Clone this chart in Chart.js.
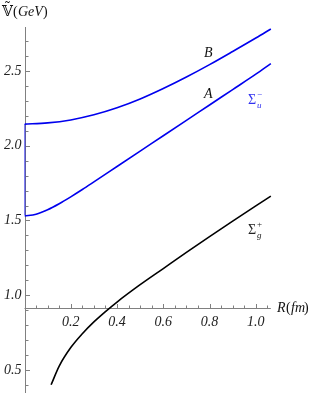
<!DOCTYPE html>
<html>
<head>
<meta charset="utf-8">
<script src="https://cdn.jsdelivr.net/npm/chart.js@4.4.1/dist/chart.umd.min.js"></script>
<style>
  html, body { margin: 0; padding: 0; background: #fff; }
  canvas { display: block; }
</style>
</head>
<body>
<canvas id="myChart" width="313" height="393"></canvas>
<script>
// valores
const r_sigma_g = [0.115, 0.15, 0.2, 0.25, 0.3, 0.35, 0.4, 0.5, 0.6, 0.7, 0.8, 0.9, 1.0, 1.065];
const v_sigma_g = [0.40, 0.525, 0.649, 0.742, 0.821, 0.89, 0.954, 1.07, 1.178, 1.286, 1.392, 1.496, 1.598, 1.663];

const r_A = [0, 0.05, 0.1, 0.15, 0.2, 0.25, 0.3, 0.4, 0.5, 0.6, 0.7, 0.8, 0.9, 1.0, 1.065];
const v_A = [1.53, 1.542, 1.572, 1.612, 1.658, 1.707, 1.758, 1.861, 1.964, 2.067, 2.17, 2.273, 2.376, 2.479, 2.55];

const r_B = [0, 0.1, 0.2, 0.3, 0.4, 0.5, 0.6, 0.7, 0.8, 0.9, 1.0, 1.065];
const v_B = [2.145, 2.153, 2.173, 2.207, 2.254, 2.313, 2.383, 2.46, 2.543, 2.631, 2.721, 2.782];

// tramo vertical en R = 0
const r_salto = [0, 0];
const v_salto = [1.535, 2.145];

const x_ticks = [0.2, 0.4, 0.6, 0.8, 1.0];
const y_ticks = [0.5, 1.0, 1.5, 2.0, 2.5];
const eje_x_en = 0.913;

const grafica = document.getElementById('myChart').getContext('2d');

function puntos(xs, ys) {
    return xs.map((x, i) => ({ x: x, y: ys[i] }));
}

const ejes = {
    id: 'ejes',
    beforeDatasetsDraw(chart) {
        const ctx = chart.ctx;
        const sx = chart.scales.x;
        const sy = chart.scales.y;
        const x0 = sx.getPixelForValue(0);
        const yAxis = sy.getPixelForValue(eje_x_en);
        ctx.save();
        ctx.strokeStyle = '#808080';
        ctx.lineWidth = 1;
        ctx.beginPath();
        // eje y
        ctx.moveTo(Math.round(x0) + 0.5, sy.top);
        ctx.lineTo(Math.round(x0) + 0.5, sy.bottom);
        // eje x
        ctx.moveTo(x0, Math.round(yAxis) + 0.5);
        ctx.lineTo(sx.getPixelForValue(1.065), Math.round(yAxis) + 0.5);
        // marcas x
        for (let k = 1; k <= 21; k++) {
            const v = k * 0.05;
            const px = Math.round(sx.getPixelForValue(v)) + 0.5;
            const major = k % 4 === 0;
            ctx.moveTo(px, Math.round(yAxis));
            ctx.lineTo(px, Math.round(yAxis) - (major ? 4 : 2.5));
        }
        // marcas y
        for (let k = 4; k <= 27; k++) {
            const v = k * 0.1;
            const py = Math.round(sy.getPixelForValue(v)) + 0.5;
            const major = k % 5 === 0;
            ctx.moveTo(Math.round(x0) + 1, py);
            ctx.lineTo(Math.round(x0) + 1 + (major ? 4 : 2.5), py);
        }
        ctx.stroke();

        ctx.fillStyle = '#222';
        ctx.font = 'italic 14px "Liberation Serif"';
        ctx.textAlign = 'center';
        ctx.textBaseline = 'top';
        for (const v of x_ticks) {
            ctx.fillText(v.toFixed(1), sx.getPixelForValue(v), yAxis + 7);
        }
        ctx.textAlign = 'right';
        ctx.textBaseline = 'middle';
        for (const v of y_ticks) {
            ctx.fillText(v.toFixed(1), x0 - 3, sy.getPixelForValue(v));
        }
        ctx.restore();
    },
    afterDraw(chart) {
        const ctx = chart.ctx;
        const sy = chart.scales.y;
        const yAxis = sy.getPixelForValue(eje_x_en);
        ctx.save();
        ctx.fillStyle = '#111';
        ctx.textBaseline = 'alphabetic';
        ctx.textAlign = 'left';
        // titulo eje y
        ctx.font = '14px "DejaVu Serif"';
        ctx.fillText('\u{1D54D}\u0303', 2, 16);
        ctx.font = '14px "Liberation Serif"';
        ctx.fillText('(', 13, 16);
        ctx.font = 'italic 14px "Liberation Serif"';
        ctx.fillText('GeV', 18, 16);
        ctx.font = '14px "Liberation Serif"';
        ctx.fillText(')', 43, 16);
        // titulo eje x
        ctx.font = 'italic 14px "Liberation Serif"';
        ctx.fillText('R', 277, yAxis + 4);
        ctx.font = '14px "Liberation Serif"';
        ctx.fillText('(', 286, yAxis + 4);
        ctx.font = 'italic 14px "Liberation Serif"';
        ctx.fillText('fm', 291, yAxis + 4);
        ctx.font = '14px "Liberation Serif"';
        ctx.fillText(')', 304, yAxis + 4);
        // etiquetas
        ctx.font = 'italic 14px "Liberation Serif"';
        ctx.fillText('B', 204, 57);
        ctx.fillText('A', 204, 98);
        ctx.fillStyle = '#3030f0';
        ctx.font = '14px "Liberation Serif"';
        ctx.fillText('\u03A3', 248, 104);
        ctx.font = 'italic 9px "Liberation Serif"';
        ctx.fillText('u', 257, 108);
        ctx.font = '9px "Liberation Serif"';
        ctx.fillText('\u2212', 257, 97);
        ctx.fillStyle = '#222';
        ctx.font = '14px "Liberation Serif"';
        ctx.fillText('\u03A3', 248, 234);
        ctx.font = 'italic 9px "Liberation Serif"';
        ctx.fillText('g', 257, 238);
        ctx.font = '9px "Liberation Serif"';
        ctx.fillText('+', 257, 227);
        ctx.restore();
    }
};

const myChart = new Chart(grafica, {
    type: 'line',
    data: {
        datasets: [
            {
                label: 'salto',
                data: puntos(r_salto, v_salto),
                borderColor: '#0000ee',
                borderWidth: 1.6,
                pointRadius: 0
            },
            {
                label: 'B',
                data: puntos(r_B, v_B),
                borderColor: '#0000ee',
                borderWidth: 1.6,
                pointRadius: 0,
                cubicInterpolationMode: 'monotone'
            },
            {
                label: 'A',
                data: puntos(r_A, v_A),
                borderColor: '#0000ee',
                borderWidth: 1.6,
                pointRadius: 0,
                cubicInterpolationMode: 'monotone'
            },
            {
                label: 'Sigma g',
                data: puntos(r_sigma_g, v_sigma_g),
                borderColor: '#000000',
                borderWidth: 1.6,
                pointRadius: 0,
                cubicInterpolationMode: 'monotone'
            }
        ]
    },
    options: {
        responsive: false,
        animation: false,
        layout: { padding: { left: 24.5, right: 41, top: 27, bottom: 0 } },
        plugins: { legend: { display: false }, tooltip: { enabled: false } },
        scales: {
            x: { type: 'linear', min: 0, max: 1.07, display: false },
            y: { type: 'linear', min: 0.345, max: 2.795, display: false }
        }
    },
    plugins: [ejes]
});
</script>
</body>
</html>
